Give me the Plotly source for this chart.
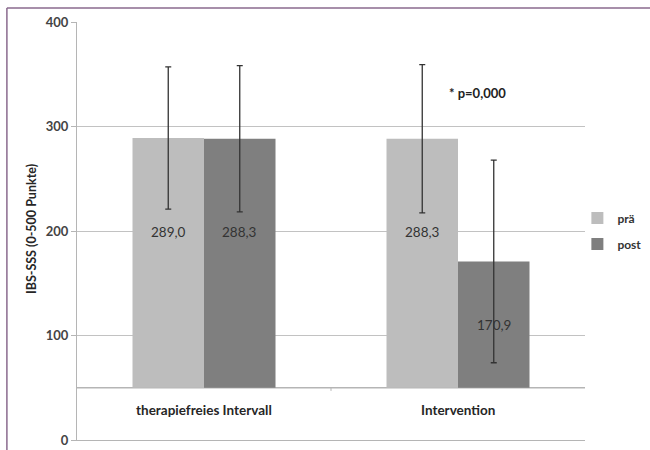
import plotly.graph_objects as go

# ---- data ----
categories = ["therapiefreies Intervall", "Intervention"]
pre_values = [289.0, 288.3]
post_values = [288.3, 170.9]
pre_sd = [68, 71]
post_sd = [70, 97]
pre_labels = ["289,0", "288,3"]
post_labels = ["288,3", "170,9"]
series_names = ["prä", "post"]
y_ticks = [0, 100, 200, 300, 400]
p_text = "* p=0,000"

# ---- layout helpers (positions / styles) ----
axis_cross = 50          # horizontal axis crosses value axis at 50
pre_label_y = [199, 199]
post_label_y = [199, 110]
cat_label_y = 29
pre_color = "#bdbdbd"
post_color = "#7f7f7f"
grid_color = "#c2c2c2"
font_family = "Lato, 'Open Sans', sans-serif"

x_idx = list(range(len(categories)))

fig = go.Figure()
for name, vals, sds, col, leg in [
    (series_names[0], pre_values, pre_sd, pre_color, "legend"),
    (series_names[1], post_values, post_sd, post_color, "legend2"),
]:
    fig.add_trace(go.Bar(
        name="<b>" + name + "</b>",
        x=x_idx,
        y=[v - axis_cross for v in vals],
        base=axis_cross,
        marker=dict(color=col, line=dict(width=0)),
        error_y=dict(type="data", array=sds, visible=True,
                     color="#333333", thickness=1.3, width=3),
        legend=leg,
        showlegend=True,
    ))

annotations = []
for i in x_idx:
    annotations.append(dict(x=i - 0.14, y=pre_label_y[i], xref="x", yref="y",
                            text=pre_labels[i], showarrow=False,
                            font=dict(family=font_family, size=13.5, color="#333333")))
    annotations.append(dict(x=i + 0.14, y=post_label_y[i], xref="x", yref="y",
                            text=post_labels[i], showarrow=False,
                            font=dict(family=font_family, size=13.5, color="#333333")))
    annotations.append(dict(x=i, y=cat_label_y, xref="x", yref="y",
                            text="<b>" + categories[i] + "</b>", showarrow=False,
                            font=dict(family=font_family, size=13.5, color="#262626")))

annotations.append(dict(x=1.075, y=332, xref="x", yref="y", text="<b>" + p_text + "</b>",
                        showarrow=False,
                        font=dict(family=font_family, size=13, color="#222222")))
annotations.append(dict(x=-0.107, y=0.505, xref="paper", yref="paper",
                        text="<b>IBS-SSS (0-500 Punkte)</b>", textangle=-90,
                        showarrow=False,
                        font=dict(family=font_family, size=12.5, color="#262626")))

shapes = [
    # horizontal category axis at y=50
    dict(type="line", xref="paper", yref="y", x0=0, x1=1, y0=axis_cross, y1=axis_cross,
         line=dict(color="#b5b5b5", width=1.3), layer="below"),
    # small tick between categories
    dict(type="line", xref="x", yref="y", x0=0.5, x1=0.5, y0=axis_cross, y1=axis_cross - 3,
         line=dict(color="#b5b5b5", width=1)),
    # outer frame (top and left)
    dict(type="line", xref="paper", yref="paper", x0=-0.138, x1=1.2, y0=1.0335, y1=1.0335,
         line=dict(color="#8a6a8e", width=1.5)),
    dict(type="line", xref="paper", yref="paper", x0=-0.138, x1=-0.138, y0=-0.03, y1=1.0335,
         line=dict(color="#8a6a8e", width=1.5)),
]

fig.update_layout(
    width=650, height=450,
    margin=dict(l=77, r=65, t=22, b=10, autoexpand=False),
    paper_bgcolor="white", plot_bgcolor="white",
    barmode="group", bargap=0.437, bargroupgap=0,
    font=dict(family=font_family, color="#333333"),
    annotations=annotations,
    shapes=shapes,
    legend=dict(x=0.985, y=0.531, xanchor="left", yanchor="middle",
                bgcolor="rgba(0,0,0,0)", itemwidth=30,
                font=dict(family=font_family, size=12, color="#333333")),
    legend2=dict(x=0.985, y=0.469, xanchor="left", yanchor="middle",
                 bgcolor="rgba(0,0,0,0)", itemwidth=30,
                 font=dict(family=font_family, size=12, color="#333333")),
)

fig.update_xaxes(
    range=[-0.5, len(categories) - 0.5],
    showticklabels=False, ticks="", showgrid=False, zeroline=False,
    showline=True, linecolor="#b5b5b5", linewidth=1.3,
)
fig.update_yaxes(
    range=[0, 400], tickvals=y_ticks,
    ticktext=["<b>%d</b>" % t for t in y_ticks],
    tickfont=dict(family=font_family, size=13, color="#444444"),
    showgrid=True, gridcolor=grid_color, gridwidth=1.3,
    zeroline=False, showline=True, linecolor="#b5b5b5", linewidth=1.3,
    ticks="outside", ticklen=5, tickcolor="#b5b5b5",
)

fig.write_html(
    "out.html",
    config={"displayModeBar": False},
    post_script="document.body.style.margin='0';document.body.style.overflow='hidden';",
)
